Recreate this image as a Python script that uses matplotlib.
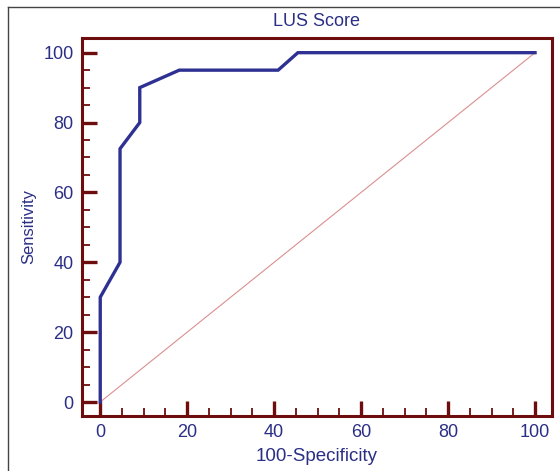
"""ROC curve for LUS score (sensitivity vs 100-specificity)."""

import matplotlib
matplotlib.use("Agg")
import matplotlib.pyplot as plt
from matplotlib.lines import Line2D
from matplotlib.ticker import MultipleLocator

plt.rcParams.update({
    "font.family": ["Liberation Sans", "DejaVu Sans"],
    "font.size": 12,
})

# ── data ───────────────────────────────────────────────────────────────────────
fpr = [0, 0, 4.55, 4.55, 9.09, 9.09, 18.18, 40.91, 45.45, 100]
tpr = [0, 30, 40, 72.5, 80, 90, 95, 95, 100, 100]
ref_x = [0, 100]
ref_y = [0, 100]
ticks = [0, 20, 40, 60, 80, 100]

FRAME = "#6e0d0d"
BLUE = "#2e3192"
TXT = "#2a2f85"

# ── figure ─────────────────────────────────────────────────────────────────────
fig = plt.figure(figsize=(5.6, 4.71), dpi=100)
ax = fig.add_axes([0.1464, 0.1168, 0.8393, 0.8025])

ax.plot(ref_x, ref_y, color="#d9908e", lw=0.8, zorder=1)
ax.plot(fpr, tpr, color=BLUE, lw=2.4, solid_joinstyle="miter", zorder=3)

ax.set_xlim(-4.2, 103.9)
ax.set_ylim(-4, 104.2)
ax.set_xticks(ticks)
ax.set_yticks(ticks)
ax.xaxis.set_minor_locator(MultipleLocator(5))
ax.yaxis.set_minor_locator(MultipleLocator(5))

for s in ax.spines.values():
    s.set_color(FRAME)
    s.set_linewidth(2.2)

ax.tick_params(which="major", direction="in", length=11, width=2.4,
               color=FRAME, labelcolor=TXT, labelsize=13, pad=6)
ax.tick_params(which="minor", direction="in", length=5.5, width=1.3,
               color=FRAME)

ax.set_title("LUS Score", color=TXT, fontsize=13, pad=9)
ax.set_xlabel("100-Specificity", color=TXT, fontsize=13.5, labelpad=5)
ax.set_ylabel("Sensitivity", color=TXT, fontsize=12, labelpad=5)

# thin page border (top and left only)
fig.add_artist(Line2D([8 / 560, 1.0], [1 - 7 / 471, 1 - 7 / 471],
                      transform=fig.transFigure, color="#444444", lw=1.0))
fig.add_artist(Line2D([8 / 560, 8 / 560], [0.0, 1 - 7 / 471],
                      transform=fig.transFigure, color="#444444", lw=1.0))

fig.savefig("out.png", dpi=100)
